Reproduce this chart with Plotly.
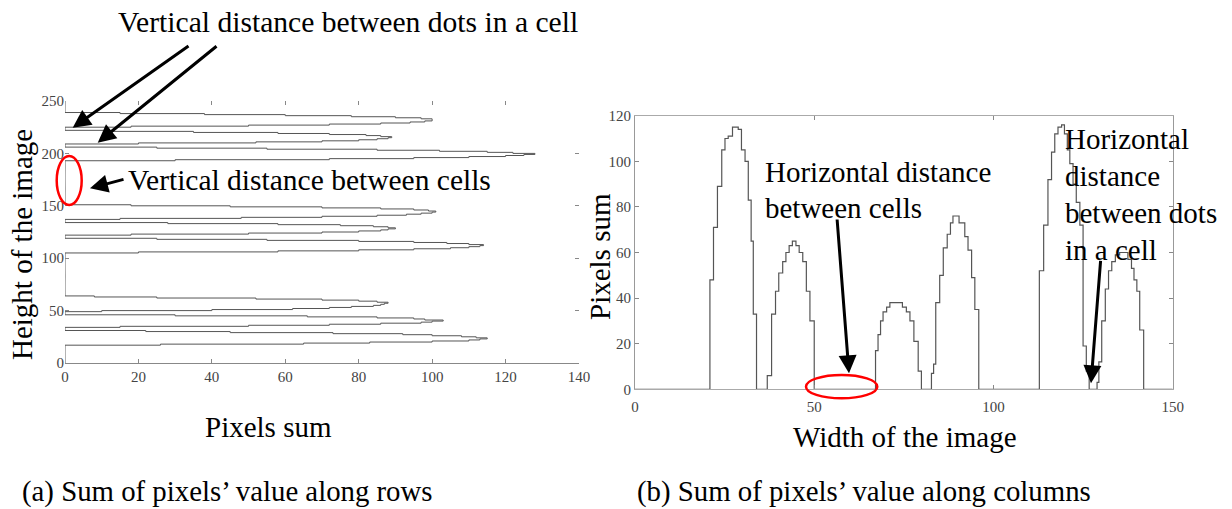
import plotly.graph_objects as go

# ---------------- data: (a) sum of pixels along rows ----------------
image_height = 250
row_spike_starts = [18, 35, 50, 106, 123, 138, 194, 210, 226]
row_spike_sums = [
    [26, 65, 83, 100, 110, 113, 115, 112, 108, 100, 92, 73, 45, 22],
    [15, 50, 72, 86, 97, 100, 103, 98, 95, 85, 66, 30],
    [10, 40, 62, 72, 78, 84, 86, 87, 88, 85, 80, 70, 52, 25, 8],
    [20, 58, 80, 95, 105, 110, 113, 114, 110, 104, 95, 80, 55, 25],
    [18, 50, 70, 80, 86, 88, 90, 88, 84, 75, 58, 28],
    [15, 48, 70, 85, 93, 97, 100, 101, 99, 95, 86, 70, 45, 18],
    [30, 72, 95, 110, 120, 125, 128, 122, 115, 102, 85, 55, 25],
    [20, 52, 70, 80, 85, 88, 89, 86, 82, 72, 58, 35, 12],
    [18, 50, 72, 86, 94, 98, 100, 100, 97, 90, 78, 60, 38, 15],
]

# ---------------- data: (b) sum of pixels along columns ----------------
col_x = [0, 20.9, 21.9, 23.0, 24.2, 25.1, 26.0, 27.2, 28.8, 29.7, 30.7, 31.6, 32.4, 33.0, 33.9,
         36.9, 38.1, 39.2, 40.1, 41.2, 42.1, 43.0, 43.9, 44.9, 45.8, 46.8, 47.8, 48.8, 50.0,
         67.1, 67.8, 68.5, 69.2, 70.2, 71.1, 74.6, 75.7, 76.7, 77.8, 79.0, 79.9,
         82.7, 83.3, 83.9, 85.0, 86.0, 87.1, 88.0, 88.7, 90.4, 92.0, 92.9, 93.9, 94.8, 95.9,
         112.8, 114.0, 115.2, 116.2, 117.1, 118.0, 119.0, 119.8, 120.6, 121.3, 122.2, 123.1, 124.1, 125.0, 125.9, 126.7,
         128.9, 129.4, 130.2, 131.2, 132.1, 133.0, 134.0, 135.2, 137.5, 138.5, 139.2, 140.0, 140.8, 141.9,
         150]
col_sum = [0, 48, 71, 89, 105, 110, 111, 115, 114, 105, 100, 83, 65, 33, 0,
           6, 33, 43, 51, 56, 60, 63, 65, 63, 60, 56, 43, 30, 0,
           17, 24, 30, 34, 36, 38, 36, 34, 30, 21, 8, 0,
           7, 11, 38, 50, 62, 68, 73, 76, 73, 67, 61, 49, 35, 0,
           52, 72, 92, 104, 112, 115, 116, 112, 105, 99, 90, 82, 72, 19, 8, 0,
           3, 12, 30, 44, 52, 56, 59, 60, 57, 53, 48, 43, 26, 0,
           0]

left_xticks = [0, 20, 40, 60, 80, 100, 120, 140]
left_yticks = [0, 50, 100, 150, 200, 250]
right_xticks = [0, 50, 100, 150]
right_yticks = [0, 20, 40, 60, 80, 100, 120]

# build row profile
rows = list(range(image_height + 1))
row_sum = [0] * (image_height + 1)
for start, vals in zip(row_spike_starts, row_spike_sums):
    for k, v in enumerate(vals):
        row_sum[start + k] = v

W, H = 1232, 509
def px(x):
    return x / W
def py(y):
    return 1 - y / H

SERIF = "Liberation Serif, Times New Roman, serif"

fig = go.Figure()
fig.add_trace(go.Scatter(x=row_sum, y=rows, mode="lines", line=dict(color="#555", width=1, shape="hv"),
                         xaxis="x", yaxis="y", hoverinfo="skip"))
fig.add_trace(go.Scatter(x=col_x, y=col_sum, mode="lines", line=dict(color="#555", width=1.2, shape="hv"),
                         xaxis="x2", yaxis="y2", hoverinfo="skip"))

tick_common = dict(ticks="inside", ticklen=4, tickcolor="#888", showgrid=False, mirror="ticks",
                   automargin=False)

fig.update_layout(
    width=W, height=H, margin=dict(l=0, r=0, t=0, b=0, pad=0, autoexpand=False),
    paper_bgcolor="white", plot_bgcolor="white", showlegend=False,
    xaxis=dict(domain=[px(65), px(579)], anchor="y", range=[0, 140], tickvals=left_xticks,
               showline=False, zeroline=False, tickfont=dict(family=SERIF, size=15, color="#444"),
               ticklabelstandoff=3, **tick_common),
    yaxis=dict(domain=[py(363), py(101)], anchor="x", range=[0, 250], tickvals=left_yticks,
               showline=False, zeroline=True, zerolinecolor="#888", zerolinewidth=1,
               tickfont=dict(family=SERIF, size=15, color="#444"), **tick_common),
    xaxis2=dict(domain=[px(635), px(1172.7)], anchor="y2", range=[0, 150], tickvals=right_xticks,
                showline=True, linecolor="#aaa", linewidth=1, zeroline=False,
                tickfont=dict(family=SERIF, size=15, color="#444"), ticklabelstandoff=4, **tick_common),
    yaxis2=dict(domain=[py(389.3), py(115.7)], anchor="x2", range=[0, 120], tickvals=right_yticks,
                showline=True, linecolor="#999", linewidth=1, zeroline=False,
                tickfont=dict(family=SERIF, size=15, color="#444"), **tick_common),
    yaxis3=dict(overlaying="y2", anchor="x2", side="right", range=[0, 120], showline=True,
                linecolor="#333", linewidth=1, showticklabels=False, ticks="", showgrid=False,
                zeroline=False, automargin=False),
)

big = dict(family=SERIF, size=29, color="black")
def text(t, x, y, xanchor="left", angle=0, size=29):
    fig.add_annotation(text=t, x=px(x), y=py(y), xref="paper", yref="paper", showarrow=False,
                       xanchor=xanchor, yanchor="middle", font=dict(big, size=size), textangle=angle)

text("Vertical distance between dots in a cell", 116, 22, size=29.6)
text("Vertical distance between cells", 126, 180, size=29.5)
text("Height of the image", 22, 245, xanchor="center", angle=-90)
text("Pixels sum", 268, 427, xanchor="center")
text("(a) Sum of pixels\u2019 value along rows", 20, 491, size=28.8)
text("Pixels sum", 600, 257, xanchor="center", angle=-90)
text("Width of the image", 905, 437, xanchor="center")
text("(b) Sum of pixels\u2019 value along columns", 635, 491, size=28.8)
text("Horizontal distance", 763, 172)
text("between cells", 763, 208)
text("Horizontal", 1063, 139)
text("distance", 1063, 176)
text("between dots", 1063, 213)
text("in a cell", 1063, 250)

def arrow(tip, tail):
    fig.add_annotation(text="", x=px(tip[0]), y=py(tip[1]), xref="paper", yref="paper",
                       ax=tail[0] - tip[0], ay=tail[1] - tip[1], axref="pixel", ayref="pixel",
                       showarrow=True, arrowhead=2, arrowsize=1.2, arrowwidth=3, arrowcolor="black",
                       standoff=0, startstandoff=0)

arrow((72.7, 127.7), (190, 45))
arrow((97.7, 142.7), (218, 45))
arrow((90, 188.3), (125, 179))
arrow((849, 373.3), (837, 218))
arrow((1091, 383.3), (1100.7, 259.3))

def ellipse(x0, y0, x1, y1):
    fig.add_shape(type="circle", xref="paper", yref="paper", x0=px(x0), x1=px(x1), y0=py(y1), y1=py(y0),
                  line=dict(color="red", width=2.5))

ellipse(56.7, 156, 81.7, 205)
ellipse(806, 375, 877.3, 398.3)

fig.write_html("out.html", config={"displayModeBar": False},
               post_script="document.body.style.margin='0';document.body.style.overflow='hidden';")
